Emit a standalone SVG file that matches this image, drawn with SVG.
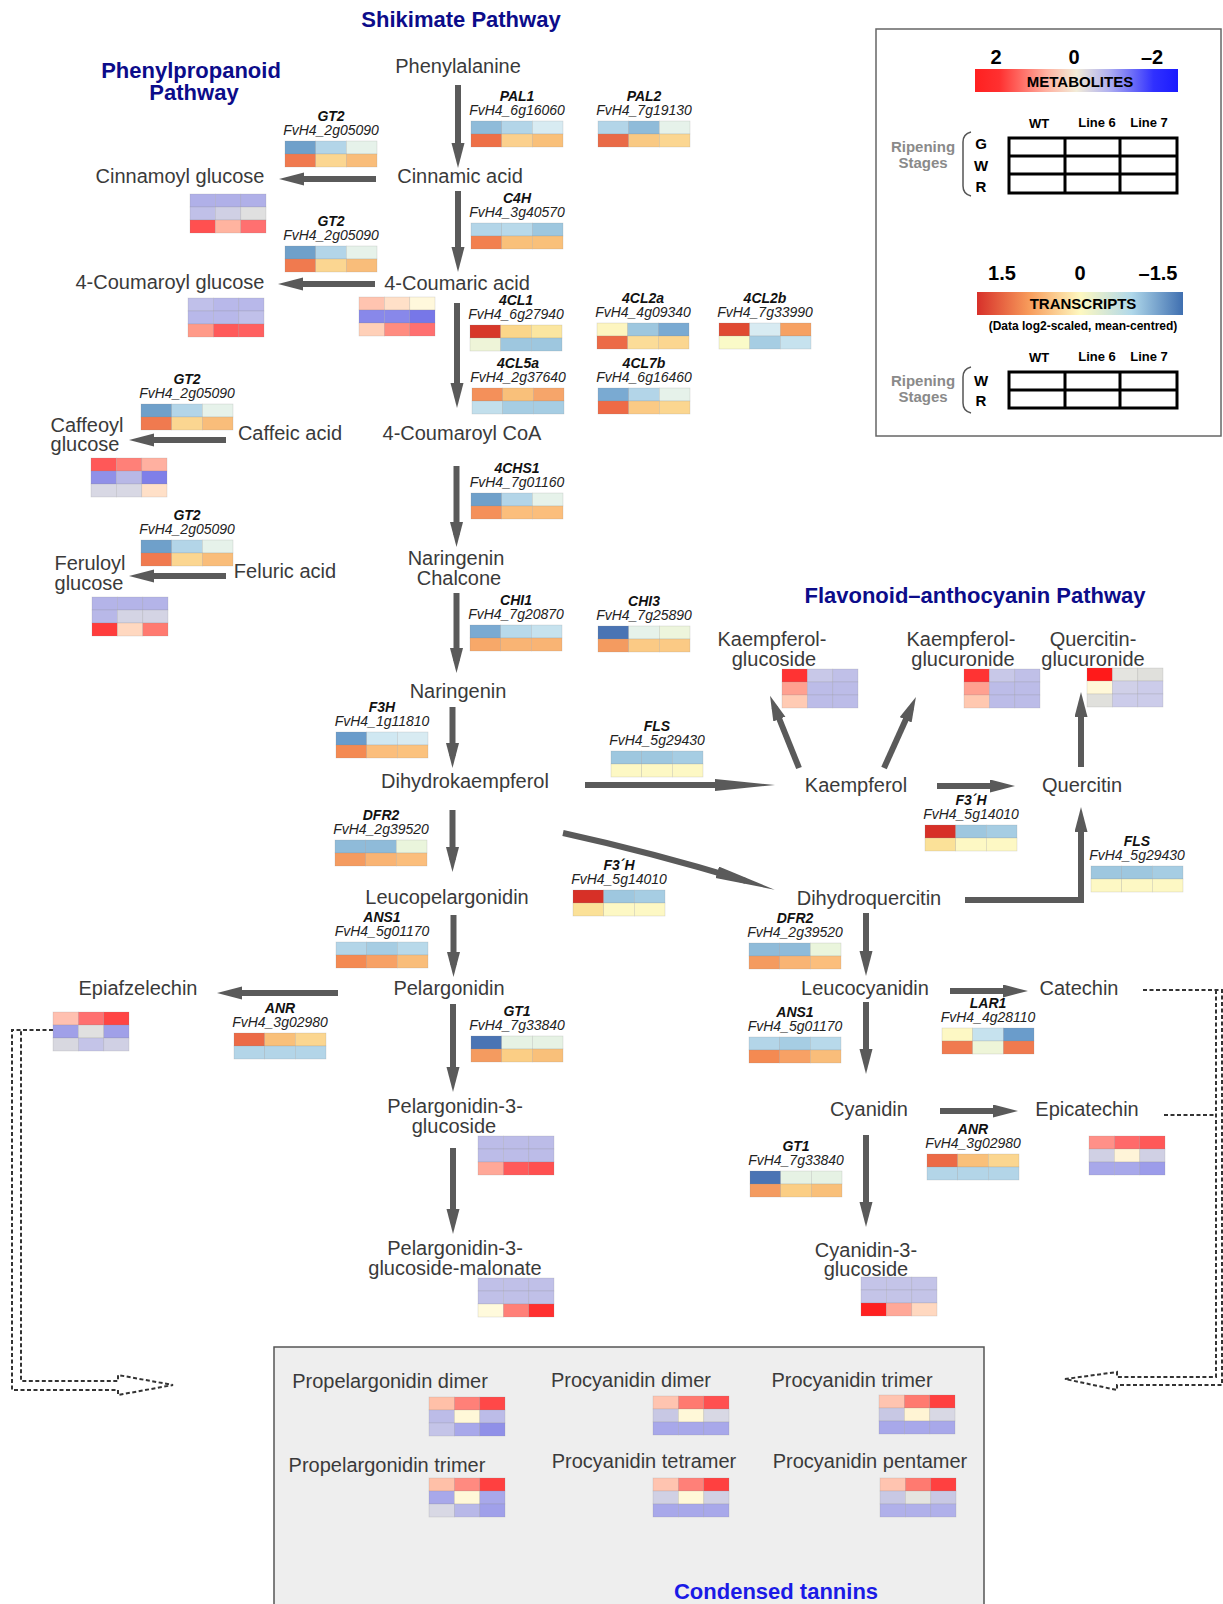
<svg xmlns="http://www.w3.org/2000/svg" width="1223" height="1604" viewBox="0 0 1223 1604">
<style>
text{font-family:"Liberation Sans",Arial,sans-serif}
.m{font-size:20px;fill:#3a3a3a;text-anchor:middle}
.t{font-size:22px;font-weight:bold;fill:#0c0c8a;text-anchor:middle}
.gn{font-size:14px;font-weight:bold;font-style:italic;fill:#111;text-anchor:middle}
.gi{font-size:14px;font-style:italic;fill:#222;text-anchor:middle}
.hm rect{stroke:#888;stroke-opacity:.3;stroke-width:.6}
.ar{stroke:#5a5a5a;stroke-width:6;fill:none;marker-end:url(#ah)}
.al{stroke:#5a5a5a;stroke-width:6;fill:none;marker-end:url(#ahl)}
.ds{stroke:#333;stroke-width:2;fill:none;stroke-dasharray:4 2.5}
.lb{font-weight:bold;fill:#000;text-anchor:middle}
.rs{font-size:15px;font-weight:bold;fill:#8a8a8a;text-anchor:middle}
.grid{stroke:#000;stroke-width:3;fill:none}
</style>
<defs>
<marker id="ah" markerUnits="userSpaceOnUse" markerWidth="26" markerHeight="14" refX="13" refY="6.5" orient="auto"><path d="M0,0 L25,6.5 L0,13 z" fill="#5a5a5a"/></marker>
<marker id="ahl" markerUnits="userSpaceOnUse" markerWidth="62" markerHeight="13" refX="30" refY="6" orient="auto"><path d="M0,0 L60,6 L0,12 z" fill="#5a5a5a"/></marker>
<linearGradient id="gm" x1="0" x2="1" y1="0" y2="0"><stop offset="0" stop-color="#ff2020"/><stop offset="0.12" stop-color="#ff3030"/><stop offset="0.35" stop-color="#ffb0a0"/><stop offset="0.5" stop-color="#f2ecd8"/><stop offset="0.66" stop-color="#b0b0f0"/><stop offset="0.88" stop-color="#3030ff"/><stop offset="1" stop-color="#1a1aff"/></linearGradient>
<linearGradient id="gt" x1="0" x2="1" y1="0" y2="0"><stop offset="0" stop-color="#d7302a"/><stop offset="0.25" stop-color="#f79a5a"/><stop offset="0.5" stop-color="#fef8c0"/><stop offset="0.75" stop-color="#b0d8ea"/><stop offset="1" stop-color="#3f6fb0"/></linearGradient>
</defs>
<rect width="1223" height="1604" fill="#fff"/>

<g id="titles">
<text class="t" x="461" y="27">Shikimate Pathway</text>
<text class="t" x="191" y="78">Phenylpropanoid</text>
<text class="t" x="194" y="100">Pathway</text>
<text class="t" x="975" y="603">Flavonoid–anthocyanin Pathway</text>
</g>

<g id="tannins-box">
<rect x="274" y="1347" width="710" height="270" fill="#eeeeee" stroke="#555" stroke-width="1.5"/>
<text x="776" y="1599" style="font-size:22px;font-weight:bold;fill:#1a1ae6;text-anchor:middle">Condensed tannins</text>
</g>

<g id="connectors">
<path class="ar" d="M458,85 V156"/>
<path class="ar" d="M458,191 V260"/>
<path class="ar" d="M457,303 V396"/>
<path class="ar" d="M456.5,466 V535"/>
<path class="ar" d="M456.5,593 V661"/>
<path class="ar" d="M452.5,707 V756"/>
<path class="ar" d="M452.5,810 V860"/>
<path class="ar" d="M453.5,915 V965"/>
<path class="ar" d="M453,1004 V1080"/>
<path class="ar" d="M453,1148 V1222"/>
<path class="ar" d="M866,913 V964"/>
<path class="ar" d="M866,1002 V1062"/>
<path class="ar" d="M866,1135 V1215"/>
<path class="ar" d="M1081,767 V704"/>
<path class="ar" d="M965,900 H1081 V819"/>
<path class="ar" d="M376,179 H291"/>
<path class="ar" d="M375,284 H290"/>
<path class="ar" d="M226,440 H141"/>
<path class="ar" d="M226,576 H141"/>
<path class="ar" d="M338,993 H229"/>
<path class="ar" d="M937,786 H1003"/>
<path class="ar" d="M950,991 H1016"/>
<path class="ar" d="M940,1111 H1006"/>
<path class="ar" d="M799,768 L774.5,707"/>
<path class="ar" d="M884,768 L911,708"/>
<path class="al" d="M585,785 H745"/>
<path class="al" d="M563,833 Q650,852 746,881"/>
<path class="ds" d="M53,1030 H12 V1390 H118 V1395 L173,1385 L118,1375 V1381 H21 V1031"/>
<path class="ds" d="M1143,990 H1222 V1385 H1117 V1390 L1065,1379 L1117,1372 V1377 H1216 V990"/>
<path class="ds" d="M1164,1115 H1216"/>
</g>

<g id="m-phenylalanine"><text class="m" x="458" y="73">Phenylalanine</text></g>
<g id="m-cinnamic"><text class="m" x="460" y="183">Cinnamic acid</text></g>
<g id="m-cinnamoyl-glucose"><text class="m" x="180" y="183">Cinnamoyl glucose</text>
<g class="hm" transform="translate(190,194)"><rect x="0" y="0" width="25.4" height="13" fill="#b0b0e8"/><rect x="25.4" y="0" width="25.4" height="13" fill="#b0b0e8"/><rect x="50.8" y="0" width="25.2" height="13" fill="#b0b0e8"/><rect x="0" y="13" width="25.4" height="13" fill="#c0c0e8"/><rect x="25.4" y="13" width="25.4" height="13" fill="#d0d0e4"/><rect x="50.8" y="13" width="25.2" height="13" fill="#e0e0e0"/><rect x="0" y="26" width="25.4" height="13" fill="#ff5050"/><rect x="25.4" y="26" width="25.4" height="13" fill="#ffb4a0"/><rect x="50.8" y="26" width="25.2" height="13" fill="#ff7070"/></g></g>
<g id="m-coumaric"><text class="m" x="457" y="290">4-Coumaric acid</text>
<g class="hm" transform="translate(359,297)"><rect x="0" y="0" width="25.4" height="13" fill="#ffc4b0"/><rect x="25.4" y="0" width="25.4" height="13" fill="#ffe0c8"/><rect x="50.8" y="0" width="25.2" height="13" fill="#fff8dc"/><rect x="0" y="13" width="25.4" height="13" fill="#8888ea"/><rect x="25.4" y="13" width="25.4" height="13" fill="#8888ea"/><rect x="50.8" y="13" width="25.2" height="13" fill="#7777e8"/><rect x="0" y="26" width="25.4" height="13" fill="#ffd0b8"/><rect x="25.4" y="26" width="25.4" height="13" fill="#ff8c80"/><rect x="50.8" y="26" width="25.2" height="13" fill="#ff7070"/></g></g>
<g id="m-coumaroyl-glucose"><text class="m" x="170" y="289">4-Coumaroyl glucose</text>
<g class="hm" transform="translate(188,298)"><rect x="0" y="0" width="25.4" height="13" fill="#c0c0ea"/><rect x="25.4" y="0" width="25.4" height="13" fill="#b8b8ea"/><rect x="50.8" y="0" width="25.2" height="13" fill="#b8b8ea"/><rect x="0" y="13" width="25.4" height="13" fill="#b8b8ea"/><rect x="25.4" y="13" width="25.4" height="13" fill="#b8b8ea"/><rect x="50.8" y="13" width="25.2" height="13" fill="#c0c0ea"/><rect x="0" y="26" width="25.4" height="13" fill="#ff9a88"/><rect x="25.4" y="26" width="25.4" height="13" fill="#ff5a5a"/><rect x="50.8" y="26" width="25.2" height="13" fill="#ff6060"/></g></g>
<g id="m-caffeic"><text class="m" x="290" y="440">Caffeic acid</text></g>
<g id="m-caffeoyl-glucose"><text class="m" x="87" y="432">Caffeoyl</text><text class="m" x="85" y="451">glucose</text>
<g class="hm" transform="translate(91,458)"><rect x="0" y="0" width="25.4" height="13" fill="#ff5858"/><rect x="25.4" y="0" width="25.4" height="13" fill="#ff8078"/><rect x="50.8" y="0" width="25.2" height="13" fill="#ffb0a0"/><rect x="0" y="13" width="25.4" height="13" fill="#9090e8"/><rect x="25.4" y="13" width="25.4" height="13" fill="#b8b8e6"/><rect x="50.8" y="13" width="25.2" height="13" fill="#7f7fe8"/><rect x="0" y="26" width="25.4" height="13" fill="#d8d8e4"/><rect x="25.4" y="26" width="25.4" height="13" fill="#d8d8e4"/><rect x="50.8" y="26" width="25.2" height="13" fill="#ffe0c8"/></g></g>
<g id="m-coumaroyl-coa"><text class="m" x="462" y="440">4-Coumaroyl CoA</text></g>
<g id="m-chalcone"><text class="m" x="456" y="565">Naringenin</text><text class="m" x="459" y="585">Chalcone</text></g>
<g id="m-feluric"><text class="m" x="285" y="578">Feluric acid</text></g>
<g id="m-feruloyl-glucose"><text class="m" x="90" y="570">Feruloyl</text><text class="m" x="89" y="590">glucose</text>
<g class="hm" transform="translate(92,597)"><rect x="0" y="0" width="25.4" height="13" fill="#b4b4e8"/><rect x="25.4" y="0" width="25.4" height="13" fill="#b4b4e8"/><rect x="50.8" y="0" width="25.2" height="13" fill="#b4b4e8"/><rect x="0" y="13" width="25.4" height="13" fill="#b8b8e8"/><rect x="25.4" y="13" width="25.4" height="13" fill="#d4d4e4"/><rect x="50.8" y="13" width="25.2" height="13" fill="#d4d4e4"/><rect x="0" y="26" width="25.4" height="13" fill="#ff3c3c"/><rect x="25.4" y="26" width="25.4" height="13" fill="#ffd8c0"/><rect x="50.8" y="26" width="25.2" height="13" fill="#ff7a70"/></g></g>
<g id="m-naringenin"><text class="m" x="458" y="698">Naringenin</text></g>
<g id="m-dihydrokaempferol"><text class="m" x="465" y="788">Dihydrokaempferol</text></g>
<g id="m-leucopelargonidin"><text class="m" x="447" y="904">Leucopelargonidin</text></g>
<g id="m-pelargonidin"><text class="m" x="449" y="995">Pelargonidin</text></g>
<g id="m-epiafzelechin"><text class="m" x="138" y="995">Epiafzelechin</text>
<g class="hm" transform="translate(53,1012)"><rect x="0" y="0" width="25.4" height="13" fill="#ffc0b0"/><rect x="25.4" y="0" width="25.4" height="13" fill="#ff7070"/><rect x="50.8" y="0" width="25.2" height="13" fill="#ff4444"/><rect x="0" y="13" width="25.4" height="13" fill="#a0a0e8"/><rect x="25.4" y="13" width="25.4" height="13" fill="#e0e0e0"/><rect x="50.8" y="13" width="25.2" height="13" fill="#a0a0e8"/><rect x="0" y="26" width="25.4" height="13" fill="#d8d8e0"/><rect x="25.4" y="26" width="25.4" height="13" fill="#c4c4e8"/><rect x="50.8" y="26" width="25.2" height="13" fill="#d0d0e4"/></g></g>
<g id="m-p3g"><text class="m" x="455" y="1113">Pelargonidin-3-</text><text class="m" x="454" y="1133">glucoside</text>
<g class="hm" transform="translate(478,1136)"><rect x="0" y="0" width="25.4" height="13" fill="#bcbce8"/><rect x="25.4" y="0" width="25.4" height="13" fill="#bcbce8"/><rect x="50.8" y="0" width="25.2" height="13" fill="#bcbce8"/><rect x="0" y="13" width="25.4" height="13" fill="#bcbce8"/><rect x="25.4" y="13" width="25.4" height="13" fill="#bcbce8"/><rect x="50.8" y="13" width="25.2" height="13" fill="#bcbce8"/><rect x="0" y="26" width="25.4" height="13" fill="#ffa898"/><rect x="25.4" y="26" width="25.4" height="13" fill="#ff5a5a"/><rect x="50.8" y="26" width="25.2" height="13" fill="#ff5050"/></g></g>
<g id="m-p3g-malonate"><text class="m" x="455" y="1255">Pelargonidin-3-</text><text class="m" x="455" y="1275">glucoside-malonate</text>
<g class="hm" transform="translate(478,1278)"><rect x="0" y="0" width="25.4" height="13" fill="#c0c0e8"/><rect x="25.4" y="0" width="25.4" height="13" fill="#c0c0e8"/><rect x="50.8" y="0" width="25.2" height="13" fill="#c0c0e8"/><rect x="0" y="13" width="25.4" height="13" fill="#c0c0e8"/><rect x="25.4" y="13" width="25.4" height="13" fill="#c0c0e8"/><rect x="50.8" y="13" width="25.2" height="13" fill="#c0c0e8"/><rect x="0" y="26" width="25.4" height="13" fill="#fffadc"/><rect x="25.4" y="26" width="25.4" height="13" fill="#ff8078"/><rect x="50.8" y="26" width="25.2" height="13" fill="#ff3030"/></g></g>
<g id="m-kaempferol-glucoside"><text class="m" x="772" y="646">Kaempferol-</text><text class="m" x="774" y="666">glucoside</text>
<g class="hm" transform="translate(782,669)"><rect x="0" y="0" width="25.4" height="13" fill="#ff3333"/><rect x="25.4" y="0" width="25.4" height="13" fill="#c8c8e8"/><rect x="50.8" y="0" width="25.2" height="13" fill="#c0c0e8"/><rect x="0" y="13" width="25.4" height="13" fill="#ffa090"/><rect x="25.4" y="13" width="25.4" height="13" fill="#bcbce8"/><rect x="50.8" y="13" width="25.2" height="13" fill="#bcbce8"/><rect x="0" y="26" width="25.4" height="13" fill="#ffcbb4"/><rect x="25.4" y="26" width="25.4" height="13" fill="#bcbce8"/><rect x="50.8" y="26" width="25.2" height="13" fill="#bcbce8"/></g></g>
<g id="m-kaempferol-glucuronide"><text class="m" x="961" y="646">Kaempferol-</text><text class="m" x="963" y="666">glucuronide</text>
<g class="hm" transform="translate(964,669)"><rect x="0" y="0" width="25.4" height="13" fill="#ff3333"/><rect x="25.4" y="0" width="25.4" height="13" fill="#c8c8e8"/><rect x="50.8" y="0" width="25.2" height="13" fill="#c0c0e8"/><rect x="0" y="13" width="25.4" height="13" fill="#ffa090"/><rect x="25.4" y="13" width="25.4" height="13" fill="#bcbce8"/><rect x="50.8" y="13" width="25.2" height="13" fill="#bcbce8"/><rect x="0" y="26" width="25.4" height="13" fill="#ffc8b0"/><rect x="25.4" y="26" width="25.4" height="13" fill="#bcbce8"/><rect x="50.8" y="26" width="25.2" height="13" fill="#bcbce8"/></g></g>
<g id="m-quercitin-glucuronide"><text class="m" x="1093" y="646">Quercitin-</text><text class="m" x="1093" y="666">glucuronide</text>
<g class="hm" transform="translate(1087,668)"><rect x="0" y="0" width="25.4" height="13" fill="#ff1a1a"/><rect x="25.4" y="0" width="25.4" height="13" fill="#e4e4e0"/><rect x="50.8" y="0" width="25.2" height="13" fill="#e0e0dc"/><rect x="0" y="13" width="25.4" height="13" fill="#fff8d8"/><rect x="25.4" y="13" width="25.4" height="13" fill="#d0d0e8"/><rect x="50.8" y="13" width="25.2" height="13" fill="#ccccea"/><rect x="0" y="26" width="25.4" height="13" fill="#e0e0dc"/><rect x="25.4" y="26" width="25.4" height="13" fill="#ccccea"/><rect x="50.8" y="26" width="25.2" height="13" fill="#ccccea"/></g></g>
<g id="m-kaempferol"><text class="m" x="856" y="792">Kaempferol</text></g>
<g id="m-quercitin"><text class="m" x="1082" y="792">Quercitin</text></g>
<g id="m-dihydroquercitin"><text class="m" x="869" y="905">Dihydroquercitin</text></g>
<g id="m-leucocyanidin"><text class="m" x="865" y="995">Leucocyanidin</text></g>
<g id="m-catechin"><text class="m" x="1079" y="995">Catechin</text></g>
<g id="m-cyanidin"><text class="m" x="869" y="1116">Cyanidin</text></g>
<g id="m-epicatechin"><text class="m" x="1087" y="1116">Epicatechin</text>
<g class="hm" transform="translate(1089,1136)"><rect x="0" y="0" width="25.4" height="13" fill="#ff9088"/><rect x="25.4" y="0" width="25.4" height="13" fill="#ff6a6a"/><rect x="50.8" y="0" width="25.2" height="13" fill="#ff5858"/><rect x="0" y="13" width="25.4" height="13" fill="#d0d0e4"/><rect x="25.4" y="13" width="25.4" height="13" fill="#fff4d8"/><rect x="50.8" y="13" width="25.2" height="13" fill="#d0d0e4"/><rect x="0" y="26" width="25.4" height="13" fill="#a8a8ea"/><rect x="25.4" y="26" width="25.4" height="13" fill="#a8a8ea"/><rect x="50.8" y="26" width="25.2" height="13" fill="#9c9cea"/></g></g>
<g id="m-c3g"><text class="m" x="866" y="1257">Cyanidin-3-</text><text class="m" x="866" y="1276">glucoside</text>
<g class="hm" transform="translate(861,1277)"><rect x="0" y="0" width="25.4" height="13" fill="#c4c4e8"/><rect x="25.4" y="0" width="25.4" height="13" fill="#c4c4e8"/><rect x="50.8" y="0" width="25.2" height="13" fill="#c4c4e8"/><rect x="0" y="13" width="25.4" height="13" fill="#c4c4e8"/><rect x="25.4" y="13" width="25.4" height="13" fill="#c4c4e8"/><rect x="50.8" y="13" width="25.2" height="13" fill="#c4c4e8"/><rect x="0" y="26" width="25.4" height="13" fill="#ff2020"/><rect x="25.4" y="26" width="25.4" height="13" fill="#ffa898"/><rect x="50.8" y="26" width="25.2" height="13" fill="#ffd8c0"/></g></g>

<g id="t-pd-dimer"><text class="m" x="390" y="1388">Propelargonidin dimer</text>
<g class="hm" transform="translate(429,1397)"><rect x="0" y="0" width="25.4" height="13" fill="#ffc0a8"/><rect x="25.4" y="0" width="25.4" height="13" fill="#ff8078"/><rect x="50.8" y="0" width="25.2" height="13" fill="#ff4848"/><rect x="0" y="13" width="25.4" height="13" fill="#bcbce8"/><rect x="25.4" y="13" width="25.4" height="13" fill="#fff8d8"/><rect x="50.8" y="13" width="25.2" height="13" fill="#bcbce8"/><rect x="0" y="26" width="25.4" height="13" fill="#c4c4e8"/><rect x="25.4" y="26" width="25.4" height="13" fill="#a8a8ea"/><rect x="50.8" y="26" width="25.2" height="13" fill="#9090e8"/></g></g>
<g id="t-pcy-dimer"><text class="m" x="631" y="1387">Procyanidin dimer</text>
<g class="hm" transform="translate(653,1396)"><rect x="0" y="0" width="25.4" height="13" fill="#ffc4b0"/><rect x="25.4" y="0" width="25.4" height="13" fill="#ff7a70"/><rect x="50.8" y="0" width="25.2" height="13" fill="#ff5050"/><rect x="0" y="13" width="25.4" height="13" fill="#c8c8e4"/><rect x="25.4" y="13" width="25.4" height="13" fill="#fff8d8"/><rect x="50.8" y="13" width="25.2" height="13" fill="#d8d8e4"/><rect x="0" y="26" width="25.4" height="13" fill="#a8a8ea"/><rect x="25.4" y="26" width="25.4" height="13" fill="#a8a8ea"/><rect x="50.8" y="26" width="25.2" height="13" fill="#a8a8ea"/></g></g>
<g id="t-pcy-trimer"><text class="m" x="852" y="1387">Procyanidin trimer</text>
<g class="hm" transform="translate(879,1395)"><rect x="0" y="0" width="25.4" height="13" fill="#ffc4b0"/><rect x="25.4" y="0" width="25.4" height="13" fill="#ff7a70"/><rect x="50.8" y="0" width="25.2" height="13" fill="#ff4040"/><rect x="0" y="13" width="25.4" height="13" fill="#c8c8e4"/><rect x="25.4" y="13" width="25.4" height="13" fill="#fff4d4"/><rect x="50.8" y="13" width="25.2" height="13" fill="#d8d8e4"/><rect x="0" y="26" width="25.4" height="13" fill="#a8a8ea"/><rect x="25.4" y="26" width="25.4" height="13" fill="#a8a8ea"/><rect x="50.8" y="26" width="25.2" height="13" fill="#a8a8ea"/></g></g>
<g id="t-pd-trimer"><text class="m" x="387" y="1472">Propelargonidin trimer</text>
<g class="hm" transform="translate(429,1478)"><rect x="0" y="0" width="25.4" height="13" fill="#ffc0a8"/><rect x="25.4" y="0" width="25.4" height="13" fill="#ff8a80"/><rect x="50.8" y="0" width="25.2" height="13" fill="#ff4040"/><rect x="0" y="13" width="25.4" height="13" fill="#a8a8ea"/><rect x="25.4" y="13" width="25.4" height="13" fill="#fff8d8"/><rect x="50.8" y="13" width="25.2" height="13" fill="#a8a8ea"/><rect x="0" y="26" width="25.4" height="13" fill="#d8d8e4"/><rect x="25.4" y="26" width="25.4" height="13" fill="#b8b8e8"/><rect x="50.8" y="26" width="25.2" height="13" fill="#a0a0ea"/></g></g>
<g id="t-pcy-tetramer"><text class="m" x="644" y="1468">Procyanidin tetramer</text>
<g class="hm" transform="translate(653,1478)"><rect x="0" y="0" width="25.4" height="13" fill="#ffc4b0"/><rect x="25.4" y="0" width="25.4" height="13" fill="#ff8078"/><rect x="50.8" y="0" width="25.2" height="13" fill="#ff4040"/><rect x="0" y="13" width="25.4" height="13" fill="#d0d0e4"/><rect x="25.4" y="13" width="25.4" height="13" fill="#fff8d8"/><rect x="50.8" y="13" width="25.2" height="13" fill="#d0d0e4"/><rect x="0" y="26" width="25.4" height="13" fill="#a8a8ea"/><rect x="25.4" y="26" width="25.4" height="13" fill="#a8a8ea"/><rect x="50.8" y="26" width="25.2" height="13" fill="#a8a8ea"/></g></g>
<g id="t-pcy-pentamer"><text class="m" x="870" y="1468">Procyanidin pentamer</text>
<g class="hm" transform="translate(880,1478)"><rect x="0" y="0" width="25.4" height="13" fill="#ffc4b0"/><rect x="25.4" y="0" width="25.4" height="13" fill="#ff7a70"/><rect x="50.8" y="0" width="25.2" height="13" fill="#ff4040"/><rect x="0" y="13" width="25.4" height="13" fill="#c8c8e4"/><rect x="25.4" y="13" width="25.4" height="13" fill="#e4e4e0"/><rect x="50.8" y="13" width="25.2" height="13" fill="#c8c8e4"/><rect x="0" y="26" width="25.4" height="13" fill="#b0b0ea"/><rect x="25.4" y="26" width="25.4" height="13" fill="#b0b0ea"/><rect x="50.8" y="26" width="25.2" height="13" fill="#b0b0ea"/></g></g>

<g id="g-pal1"><text class="gn" x="517" y="101">PAL1</text><text class="gi" x="517" y="115">FvH4_6g16060</text><g class="hm" transform="translate(471,121)"><rect x="0" y="0" width="30.7" height="13" fill="#8fbbd9"/><rect x="30.7" y="0" width="30.7" height="13" fill="#b3d5e8"/><rect x="61.4" y="0" width="30.6" height="13" fill="#d8ebf2"/><rect x="0" y="13" width="30.7" height="13" fill="#ee7047"/><rect x="30.7" y="13" width="30.7" height="13" fill="#fbd08d"/><rect x="61.4" y="13" width="30.6" height="13" fill="#f9c07a"/></g></g>
<g id="g-pal2"><text class="gn" x="644" y="101">PAL2</text><text class="gi" x="644" y="115">FvH4_7g19130</text><g class="hm" transform="translate(598,121)"><rect x="0" y="0" width="30.7" height="13" fill="#b3d5e8"/><rect x="30.7" y="0" width="30.7" height="13" fill="#8fbbd9"/><rect x="61.4" y="0" width="30.6" height="13" fill="#e6f2ea"/><rect x="0" y="13" width="30.7" height="13" fill="#e96a47"/><rect x="30.7" y="13" width="30.7" height="13" fill="#f9c983"/><rect x="61.4" y="13" width="30.6" height="13" fill="#fbd691"/></g></g>
<g id="g-gt2-a"><text class="gn" x="331" y="121">GT2</text><text class="gi" x="331" y="135">FvH4_2g05090</text><g class="hm" transform="translate(285,141)"><rect x="0" y="0" width="30.7" height="13" fill="#6fa0ca"/><rect x="30.7" y="0" width="30.7" height="13" fill="#b3d5e8"/><rect x="61.4" y="0" width="30.6" height="13" fill="#e6f2ea"/><rect x="0" y="13" width="30.7" height="13" fill="#f07a4f"/><rect x="30.7" y="13" width="30.7" height="13" fill="#fbd691"/><rect x="61.4" y="13" width="30.6" height="13" fill="#f9bd7a"/></g></g>
<g id="g-c4h"><text class="gn" x="517" y="203">C4H</text><text class="gi" x="517" y="217">FvH4_3g40570</text><g class="hm" transform="translate(471,223)"><rect x="0" y="0" width="30.7" height="13" fill="#b3d5e8"/><rect x="30.7" y="0" width="30.7" height="13" fill="#b8d9ea"/><rect x="61.4" y="0" width="30.6" height="13" fill="#9ec7df"/><rect x="0" y="13" width="30.7" height="13" fill="#f2804f"/><rect x="30.7" y="13" width="30.7" height="13" fill="#f9c07a"/><rect x="61.4" y="13" width="30.6" height="13" fill="#f9c07a"/></g></g>
<g id="g-gt2-b"><text class="gn" x="331" y="226">GT2</text><text class="gi" x="331" y="240">FvH4_2g05090</text><g class="hm" transform="translate(285,246)"><rect x="0" y="0" width="30.7" height="13" fill="#6fa0ca"/><rect x="30.7" y="0" width="30.7" height="13" fill="#b3d5e8"/><rect x="61.4" y="0" width="30.6" height="13" fill="#e6f2ea"/><rect x="0" y="13" width="30.7" height="13" fill="#f07a4f"/><rect x="30.7" y="13" width="30.7" height="13" fill="#fbd691"/><rect x="61.4" y="13" width="30.6" height="13" fill="#f9bd7a"/></g></g>
<g id="g-4cl1"><text class="gn" x="516" y="305">4CL1</text><text class="gi" x="516" y="319">FvH4_6g27940</text><g class="hm" transform="translate(470,325)"><rect x="0" y="0" width="30.7" height="13" fill="#d7382a"/><rect x="30.7" y="0" width="30.7" height="13" fill="#fbd68a"/><rect x="61.4" y="0" width="30.6" height="13" fill="#fbe6a0"/><rect x="0" y="13" width="30.7" height="13" fill="#eef4d8"/><rect x="30.7" y="13" width="30.7" height="13" fill="#9ec7df"/><rect x="61.4" y="13" width="30.6" height="13" fill="#9ec7df"/></g></g>
<g id="g-4cl2a"><text class="gn" x="643" y="303">4CL2a</text><text class="gi" x="643" y="317">FvH4_4g09340</text><g class="hm" transform="translate(597,323)"><rect x="0" y="0" width="30.7" height="13" fill="#fdf5c0"/><rect x="30.7" y="0" width="30.7" height="13" fill="#9ec7df"/><rect x="61.4" y="0" width="30.6" height="13" fill="#7aaad2"/><rect x="0" y="13" width="30.7" height="13" fill="#ec6a46"/><rect x="30.7" y="13" width="30.7" height="13" fill="#fbdc98"/><rect x="61.4" y="13" width="30.6" height="13" fill="#fbd690"/></g></g>
<g id="g-4cl2b"><text class="gn" x="765" y="303">4CL2b</text><text class="gi" x="765" y="317">FvH4_7g33990</text><g class="hm" transform="translate(719,323)"><rect x="0" y="0" width="30.7" height="13" fill="#e04a32"/><rect x="30.7" y="0" width="30.7" height="13" fill="#d8ebf2"/><rect x="61.4" y="0" width="30.6" height="13" fill="#f6a163"/><rect x="0" y="13" width="30.7" height="13" fill="#fafac8"/><rect x="30.7" y="13" width="30.7" height="13" fill="#a6cde3"/><rect x="61.4" y="13" width="30.6" height="13" fill="#c6e2ee"/></g></g>
<g id="g-4cl5a"><text class="gn" x="518" y="368">4CL5a</text><text class="gi" x="518" y="382">FvH4_2g37640</text><g class="hm" transform="translate(472,388)"><rect x="0" y="0" width="30.7" height="13" fill="#f4905a"/><rect x="30.7" y="0" width="30.7" height="13" fill="#f9c07a"/><rect x="61.4" y="0" width="30.6" height="13" fill="#f6a56a"/><rect x="0" y="13" width="30.7" height="13" fill="#c2dfec"/><rect x="30.7" y="13" width="30.7" height="13" fill="#a6cde3"/><rect x="61.4" y="13" width="30.6" height="13" fill="#a6cde3"/></g></g>
<g id="g-4cl7b"><text class="gn" x="644" y="368">4CL7b</text><text class="gi" x="644" y="382">FvH4_6g16460</text><g class="hm" transform="translate(598,388)"><rect x="0" y="0" width="30.7" height="13" fill="#7aaad2"/><rect x="30.7" y="0" width="30.7" height="13" fill="#b3d5e8"/><rect x="61.4" y="0" width="30.6" height="13" fill="#e6f2ea"/><rect x="0" y="13" width="30.7" height="13" fill="#ee6a46"/><rect x="30.7" y="13" width="30.7" height="13" fill="#fbca85"/><rect x="61.4" y="13" width="30.6" height="13" fill="#fbd690"/></g></g>
<g id="g-gt2-c"><text class="gn" x="187" y="384">GT2</text><text class="gi" x="187" y="398">FvH4_2g05090</text><g class="hm" transform="translate(141,404)"><rect x="0" y="0" width="30.7" height="13" fill="#6fa0ca"/><rect x="30.7" y="0" width="30.7" height="13" fill="#b3d5e8"/><rect x="61.4" y="0" width="30.6" height="13" fill="#e6f2ea"/><rect x="0" y="13" width="30.7" height="13" fill="#f07a4f"/><rect x="30.7" y="13" width="30.7" height="13" fill="#fbd691"/><rect x="61.4" y="13" width="30.6" height="13" fill="#f9bd7a"/></g></g>
<g id="g-4chs1"><text class="gn" x="517" y="473">4CHS1</text><text class="gi" x="517" y="487">FvH4_7g01160</text><g class="hm" transform="translate(471,493)"><rect x="0" y="0" width="30.7" height="13" fill="#6fa0ca"/><rect x="30.7" y="0" width="30.7" height="13" fill="#b3d5e8"/><rect x="61.4" y="0" width="30.6" height="13" fill="#e6f2ea"/><rect x="0" y="13" width="30.7" height="13" fill="#f4905a"/><rect x="30.7" y="13" width="30.7" height="13" fill="#fbbe7c"/><rect x="61.4" y="13" width="30.6" height="13" fill="#fbbe7c"/></g></g>
<g id="g-gt2-d"><text class="gn" x="187" y="520">GT2</text><text class="gi" x="187" y="534">FvH4_2g05090</text><g class="hm" transform="translate(141,540)"><rect x="0" y="0" width="30.7" height="13" fill="#6fa0ca"/><rect x="30.7" y="0" width="30.7" height="13" fill="#b3d5e8"/><rect x="61.4" y="0" width="30.6" height="13" fill="#e6f2ea"/><rect x="0" y="13" width="30.7" height="13" fill="#f07a4f"/><rect x="30.7" y="13" width="30.7" height="13" fill="#fbd691"/><rect x="61.4" y="13" width="30.6" height="13" fill="#f9bd7a"/></g></g>
<g id="g-chi1"><text class="gn" x="516" y="605">CHI1</text><text class="gi" x="516" y="619">FvH4_7g20870</text><g class="hm" transform="translate(470,625)"><rect x="0" y="0" width="30.7" height="13" fill="#7aaad2"/><rect x="30.7" y="0" width="30.7" height="13" fill="#b8d9ea"/><rect x="61.4" y="0" width="30.6" height="13" fill="#c6e2ee"/><rect x="0" y="13" width="30.7" height="13" fill="#f7a869"/><rect x="30.7" y="13" width="30.7" height="13" fill="#f9b474"/><rect x="61.4" y="13" width="30.6" height="13" fill="#f9b474"/></g></g>
<g id="g-chi3"><text class="gn" x="644" y="606">CHI3</text><text class="gi" x="644" y="620">FvH4_7g25890</text><g class="hm" transform="translate(598,626)"><rect x="0" y="0" width="30.7" height="13" fill="#4a74b4"/><rect x="30.7" y="0" width="30.7" height="13" fill="#e6f2ea"/><rect x="61.4" y="0" width="30.6" height="13" fill="#edf5dc"/><rect x="0" y="13" width="30.7" height="13" fill="#f49b60"/><rect x="30.7" y="13" width="30.7" height="13" fill="#fbca85"/><rect x="61.4" y="13" width="30.6" height="13" fill="#fbca85"/></g></g>
<g id="g-f3h"><text class="gn" x="382" y="712">F3H</text><text class="gi" x="382" y="726">FvH4_1g11810</text><g class="hm" transform="translate(336,732)"><rect x="0" y="0" width="30.7" height="13" fill="#6a9ccb"/><rect x="30.7" y="0" width="30.7" height="13" fill="#d0e8f2"/><rect x="61.4" y="0" width="30.6" height="13" fill="#d8ebf2"/><rect x="0" y="13" width="30.7" height="13" fill="#f48a52"/><rect x="30.7" y="13" width="30.7" height="13" fill="#fbbe7c"/><rect x="61.4" y="13" width="30.6" height="13" fill="#fbc27e"/></g></g>
<g id="g-fls-a"><text class="gn" x="657" y="731">FLS</text><text class="gi" x="657" y="745">FvH4_5g29430</text><g class="hm" transform="translate(611,751)"><rect x="0" y="0" width="30.7" height="13" fill="#9ec7df"/><rect x="30.7" y="0" width="30.7" height="13" fill="#9ec7df"/><rect x="61.4" y="0" width="30.6" height="13" fill="#a6cde3"/><rect x="0" y="13" width="30.7" height="13" fill="#fdf8c4"/><rect x="30.7" y="13" width="30.7" height="13" fill="#fdf8c4"/><rect x="61.4" y="13" width="30.6" height="13" fill="#fdf8c4"/></g></g>
<g id="g-dfr2-a"><text class="gn" x="381" y="820">DFR2</text><text class="gi" x="381" y="834">FvH4_2g39520</text><g class="hm" transform="translate(335,840)"><rect x="0" y="0" width="30.7" height="13" fill="#8fbbd9"/><rect x="30.7" y="0" width="30.7" height="13" fill="#8fbbd9"/><rect x="61.4" y="0" width="30.6" height="13" fill="#eaf5dc"/><rect x="0" y="13" width="30.7" height="13" fill="#f49b60"/><rect x="30.7" y="13" width="30.7" height="13" fill="#f9b474"/><rect x="61.4" y="13" width="30.6" height="13" fill="#fbbe7c"/></g></g>
<g id="g-f3ph-a"><text class="gn" x="619" y="870">F3´H</text><text class="gi" x="619" y="884">FvH4_5g14010</text><g class="hm" transform="translate(573,890)"><rect x="0" y="0" width="30.7" height="13" fill="#d73027"/><rect x="30.7" y="0" width="30.7" height="13" fill="#9ec7df"/><rect x="61.4" y="0" width="30.6" height="13" fill="#a6cde3"/><rect x="0" y="13" width="30.7" height="13" fill="#fbe198"/><rect x="30.7" y="13" width="30.7" height="13" fill="#fdf8c4"/><rect x="61.4" y="13" width="30.6" height="13" fill="#fdf8c4"/></g></g>
<g id="g-f3ph-b"><text class="gn" x="971" y="805">F3´H</text><text class="gi" x="971" y="819">FvH4_5g14010</text><g class="hm" transform="translate(925,825)"><rect x="0" y="0" width="30.7" height="13" fill="#d73027"/><rect x="30.7" y="0" width="30.7" height="13" fill="#9ec7df"/><rect x="61.4" y="0" width="30.6" height="13" fill="#a6cde3"/><rect x="0" y="13" width="30.7" height="13" fill="#fbe198"/><rect x="30.7" y="13" width="30.7" height="13" fill="#fdf8c4"/><rect x="61.4" y="13" width="30.6" height="13" fill="#fdf8c4"/></g></g>
<g id="g-fls-b"><text class="gn" x="1137" y="846">FLS</text><text class="gi" x="1137" y="860">FvH4_5g29430</text><g class="hm" transform="translate(1091,866)"><rect x="0" y="0" width="30.7" height="13" fill="#9ec7df"/><rect x="30.7" y="0" width="30.7" height="13" fill="#9ec7df"/><rect x="61.4" y="0" width="30.6" height="13" fill="#a6cde3"/><rect x="0" y="13" width="30.7" height="13" fill="#fdf8c4"/><rect x="30.7" y="13" width="30.7" height="13" fill="#fdf8c4"/><rect x="61.4" y="13" width="30.6" height="13" fill="#fdf8c4"/></g></g>
<g id="g-ans1-a"><text class="gn" x="382" y="922">ANS1</text><text class="gi" x="382" y="936">FvH4_5g01170</text><g class="hm" transform="translate(336,942)"><rect x="0" y="0" width="30.7" height="13" fill="#b3d5e8"/><rect x="30.7" y="0" width="30.7" height="13" fill="#a6cde3"/><rect x="61.4" y="0" width="30.6" height="13" fill="#b8d9ea"/><rect x="0" y="13" width="30.7" height="13" fill="#f48a52"/><rect x="30.7" y="13" width="30.7" height="13" fill="#f7a165"/><rect x="61.4" y="13" width="30.6" height="13" fill="#f9bd7a"/></g></g>
<g id="g-dfr2-b"><text class="gn" x="795" y="923">DFR2</text><text class="gi" x="795" y="937">FvH4_2g39520</text><g class="hm" transform="translate(749,943)"><rect x="0" y="0" width="30.7" height="13" fill="#8fbbd9"/><rect x="30.7" y="0" width="30.7" height="13" fill="#8fbbd9"/><rect x="61.4" y="0" width="30.6" height="13" fill="#eaf5dc"/><rect x="0" y="13" width="30.7" height="13" fill="#f49b60"/><rect x="30.7" y="13" width="30.7" height="13" fill="#f9b474"/><rect x="61.4" y="13" width="30.6" height="13" fill="#fbbe7c"/></g></g>
<g id="g-anr-a"><text class="gn" x="280" y="1013">ANR</text><text class="gi" x="280" y="1027">FvH4_3g02980</text><g class="hm" transform="translate(234,1033)"><rect x="0" y="0" width="30.7" height="13" fill="#ec6a46"/><rect x="30.7" y="0" width="30.7" height="13" fill="#f9c07a"/><rect x="61.4" y="0" width="30.6" height="13" fill="#fbd690"/><rect x="0" y="13" width="30.7" height="13" fill="#b3d5e8"/><rect x="30.7" y="13" width="30.7" height="13" fill="#b3d5e8"/><rect x="61.4" y="13" width="30.6" height="13" fill="#b3d5e8"/></g></g>
<g id="g-gt1-a"><text class="gn" x="517" y="1016">GT1</text><text class="gi" x="517" y="1030">FvH4_7g33840</text><g class="hm" transform="translate(471,1036)"><rect x="0" y="0" width="30.7" height="13" fill="#4a74b4"/><rect x="30.7" y="0" width="30.7" height="13" fill="#e6f2e4"/><rect x="61.4" y="0" width="30.6" height="13" fill="#e6f2e4"/><rect x="0" y="13" width="30.7" height="13" fill="#f49b60"/><rect x="30.7" y="13" width="30.7" height="13" fill="#fbce85"/><rect x="61.4" y="13" width="30.6" height="13" fill="#f9c07a"/></g></g>
<g id="g-ans1-b"><text class="gn" x="795" y="1017">ANS1</text><text class="gi" x="795" y="1031">FvH4_5g01170</text><g class="hm" transform="translate(749,1037)"><rect x="0" y="0" width="30.7" height="13" fill="#b3d5e8"/><rect x="30.7" y="0" width="30.7" height="13" fill="#a6cde3"/><rect x="61.4" y="0" width="30.6" height="13" fill="#b8d9ea"/><rect x="0" y="13" width="30.7" height="13" fill="#f48a52"/><rect x="30.7" y="13" width="30.7" height="13" fill="#f7a165"/><rect x="61.4" y="13" width="30.6" height="13" fill="#f9bd7a"/></g></g>
<g id="g-lar1"><text class="gn" x="988" y="1008">LAR1</text><text class="gi" x="988" y="1022">FvH4_4g28110</text><g class="hm" transform="translate(942,1028)"><rect x="0" y="0" width="30.7" height="13" fill="#fdf8c4"/><rect x="30.7" y="0" width="30.7" height="13" fill="#c6e2ee"/><rect x="61.4" y="0" width="30.6" height="13" fill="#6a9ccb"/><rect x="0" y="13" width="30.7" height="13" fill="#f07a4f"/><rect x="30.7" y="13" width="30.7" height="13" fill="#eef5d8"/><rect x="61.4" y="13" width="30.6" height="13" fill="#f07a4f"/></g></g>
<g id="g-anr-b"><text class="gn" x="973" y="1134">ANR</text><text class="gi" x="973" y="1148">FvH4_3g02980</text><g class="hm" transform="translate(927,1154)"><rect x="0" y="0" width="30.7" height="13" fill="#ec6a46"/><rect x="30.7" y="0" width="30.7" height="13" fill="#f9c07a"/><rect x="61.4" y="0" width="30.6" height="13" fill="#fbd690"/><rect x="0" y="13" width="30.7" height="13" fill="#b3d5e8"/><rect x="30.7" y="13" width="30.7" height="13" fill="#b3d5e8"/><rect x="61.4" y="13" width="30.6" height="13" fill="#b3d5e8"/></g></g>
<g id="g-gt1-b"><text class="gn" x="796" y="1151">GT1</text><text class="gi" x="796" y="1165">FvH4_7g33840</text><g class="hm" transform="translate(750,1171)"><rect x="0" y="0" width="30.7" height="13" fill="#4a74b4"/><rect x="30.7" y="0" width="30.7" height="13" fill="#e6f2e4"/><rect x="61.4" y="0" width="30.6" height="13" fill="#e6f2e4"/><rect x="0" y="13" width="30.7" height="13" fill="#f49b60"/><rect x="30.7" y="13" width="30.7" height="13" fill="#fbce85"/><rect x="61.4" y="13" width="30.6" height="13" fill="#f9c07a"/></g></g>

<g id="legend">
<rect x="876" y="29" width="345" height="407" fill="#fff" stroke="#666" stroke-width="1.5"/>
<text class="lb" x="996" y="64" style="font-size:20px">2</text>
<text class="lb" x="1074" y="64" style="font-size:20px">0</text>
<text class="lb" x="1152" y="64" style="font-size:20px">–2</text>
<rect x="975" y="69" width="203" height="23" fill="url(#gm)"/>
<text class="lb" x="1080" y="87" style="font-size:15px">METABOLITES</text>
<text class="lb" x="1039" y="128" style="font-size:13px">WT</text>
<text class="lb" x="1097" y="127" style="font-size:13px">Line 6</text>
<text class="lb" x="1149" y="127" style="font-size:13px">Line 7</text>
<text class="rs" x="923" y="152">Ripening</text>
<text class="rs" x="923" y="168">Stages</text>
<path d="M971,132 Q963,134 963,142 V186 Q963,194 971,196" stroke="#555" stroke-width="1.5" fill="none"/>
<text class="lb" x="981" y="149" style="font-size:15px">G</text>
<text class="lb" x="981" y="171" style="font-size:15px">W</text>
<text class="lb" x="981" y="192" style="font-size:15px">R</text>
<rect class="grid" x="1009" y="138" width="168" height="55"/>
<path class="grid" d="M1065,138 V193 M1120,138 V193 M1009,156 H1177 M1009,174 H1177"/>
<text class="lb" x="1002" y="280" style="font-size:20px">1.5</text>
<text class="lb" x="1080" y="280" style="font-size:20px">0</text>
<text class="lb" x="1158" y="280" style="font-size:20px">–1.5</text>
<rect x="977" y="292" width="206" height="23" fill="url(#gt)"/>
<text class="lb" x="1083" y="309" style="font-size:15px">TRANSCRIPTS</text>
<text class="lb" x="1083" y="330" style="font-size:12px">(Data log2-scaled, mean-centred)</text>
<text class="lb" x="1039" y="362" style="font-size:13px">WT</text>
<text class="lb" x="1097" y="361" style="font-size:13px">Line 6</text>
<text class="lb" x="1149" y="361" style="font-size:13px">Line 7</text>
<text class="rs" x="923" y="386">Ripening</text>
<text class="rs" x="923" y="402">Stages</text>
<path d="M971,367 Q963,369 963,377 V403 Q963,411 971,413" stroke="#555" stroke-width="1.5" fill="none"/>
<text class="lb" x="981" y="386" style="font-size:15px">W</text>
<text class="lb" x="981" y="406" style="font-size:15px">R</text>
<rect class="grid" x="1009" y="372" width="168" height="36"/>
<path class="grid" d="M1065,372 V408 M1120,372 V408 M1009,390 H1177"/>
</g>
</svg>
